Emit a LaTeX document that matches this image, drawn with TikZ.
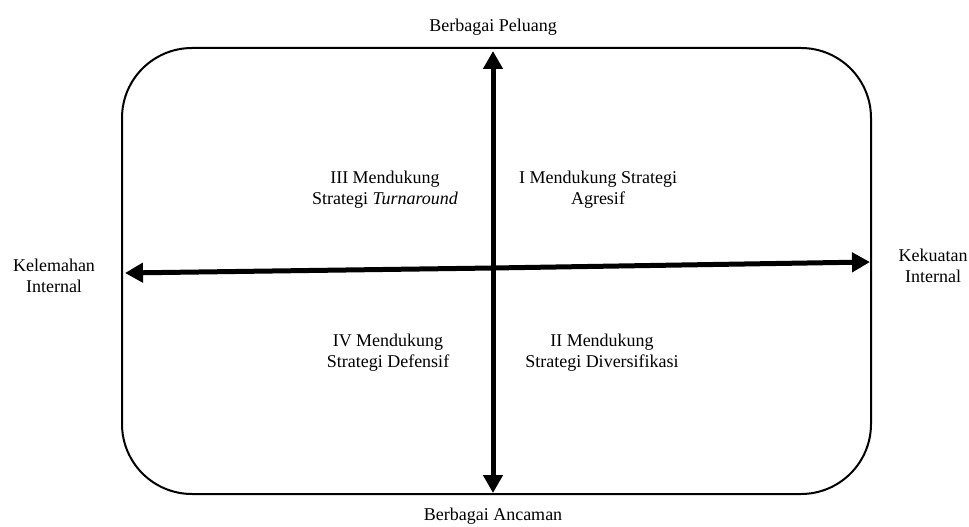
\documentclass[tikz,border=0pt]{standalone}
\usepackage{fontspec}
\setmainfont{Liberation Serif}
\usetikzlibrary{arrows.meta}
\begin{document}
\begin{tikzpicture}[x=1pt,y=-1pt,
  lbl/.style={inner sep=0pt, align=center, font=\fontsize{18}{21}\selectfont},
  axis/.style={line width=5pt, -{Triangle[length=18pt,width=19pt]}},
  frame/.style={draw, line width=2pt, rounded corners=70pt}]
\useasboundingbox (0,0) rectangle (969,527);
\draw[frame] (122,48) rectangle (871,494);
\coordinate (c) at (493,268);
\coordinate (l) at (125,273);
\coordinate (r) at (870,262);
\coordinate (t) at (493,51);
\coordinate (b) at (493,493);
\draw[axis] (c) -- (l);
\draw[axis] (c) -- (r);
\draw[axis] (c) -- (t);
\draw[axis] (c) -- (b);
\node[lbl] (top) at (493,27) {Berbagai Peluang};
\node[lbl] (bot) at (493,516) {Berbagai Ancaman};
\node[lbl] (left) at (54,276) {Kelemahan\\Internal};
\node[lbl] (right) at (933,266) {Kekuatan\\Internal};
\node[lbl] (q3) at (385,190) {III Mendukung\\Strategi \textit{Turnaround}};
\node[lbl] (q1) at (598,190) {I Mendukung Strategi\\Agresif};
\node[lbl] (q4) at (388,353) {IV Mendukung\\Strategi Defensif};
\node[lbl] (q2) at (602,353) {II Mendukung\\Strategi Diversifikasi};
\end{tikzpicture}
\end{document}
